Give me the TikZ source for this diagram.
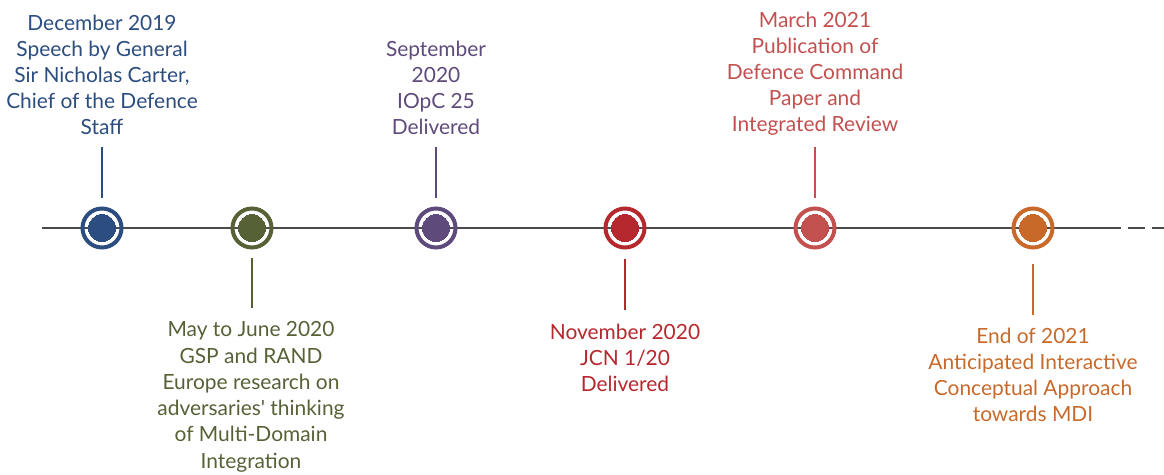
\documentclass[tikz,border=0pt]{standalone}
\usepackage{fontspec}
\setmainfont{Lato}
\begin{document}
\begin{tikzpicture}[x=1bp,y=-1bp,
  axis/.style={draw=axisgray,line width=2bp},
  milestone/.style={circle,draw=#1,fill=#1,line width=0bp,minimum size=27bp,inner sep=0pt,
    append after command={\pgfextra{\draw[#1,line width=4bp] (\tikzlastnode.center) circle[radius=19.5bp];}}},
  tick/.style={draw=#1,line width=1.6bp},
  label/.style={text=#1,align=center,inner sep=0pt,anchor=base,font=\fontsize{21}{26.3}\selectfont},
]
\definecolor{axisgray}{HTML}{4A4A4A}
\definecolor{cblue}{HTML}{2B4D7F}
\definecolor{cgreen}{HTML}{566136}
\definecolor{cpurple}{HTML}{5F4B7B}
\definecolor{cred}{HTML}{B5282D}
\definecolor{cpink}{HTML}{C2504F}
\definecolor{corange}{HTML}{C8692A}

\useasboundingbox (0,0) rectangle (1164,475);

% timeline axis
\coordinate (start) at (42,228);
\coordinate (stop) at (1121,228);
\coordinate (tail) at (1168,228);
\draw[axis] (start) -- (stop);
\draw[axis,dash pattern=on 17bp off 7bp] ([xshift=7bp]stop) -- (tail);

% milestones
\node[milestone=cblue]   (c1) at (102,228) {};
\node[milestone=cgreen]  (c2) at (252,228) {};
\node[milestone=cpurple] (c3) at (436,228) {};
\node[milestone=cred]    (c4) at (625,228) {};
\node[milestone=cpink]   (c5) at (815,228) {};
\node[milestone=corange] (c6) at (1033,228) {};

% labels (anchored at the baseline of their last line)
\node[label=cblue]   (l1) at (102,135) {December 2019\\Speech by General\\Sir Nicholas Carter,\\Chief of the Defence\\Staff};
\node[label=cpurple] (l3) at (436,135) {September\\2020\\IOpC 25\\Delivered};
\node[label=cpink]   (l5) at (815,132) {March 2021\\Publication of\\Defence Command\\Paper and\\Integrated Review};
\node[label=cgreen]  (l2) at (251,468) {May to June 2020\\GSP and RAND\\Europe research on\\adversaries\textquotesingle{} thinking\\of Multi-Domain\\Integration};
\node[label=cred]    (l4) at (625,392) {November 2020\\JCN 1/20\\Delivered};
\node[label=corange] (l6) at (1033,422) {End of 2021\\Anticipated Interactive\\Conceptual Approach\\towards MDI};

% connector ticks (a gap is left at both ends)
\draw[tick=cblue]   ([yshift=16.5bp]c1.north) -- ([yshift=67.5bp]c1.north);
\draw[tick=cgreen]  ([yshift=-16.5bp]c2.south) -- ([yshift=-66.5bp]c2.south);
\draw[tick=cpurple] ([yshift=16.5bp]c3.north) -- ([yshift=67.5bp]c3.north);
\draw[tick=cred]    ([yshift=-17.5bp]c4.south) -- ([yshift=-68.5bp]c4.south);
\draw[tick=cpink]   ([yshift=16.5bp]c5.north) -- ([yshift=67.5bp]c5.north);
\draw[tick=corange] ([yshift=-22.5bp]c6.south) -- ([yshift=-73.5bp]c6.south);
\end{tikzpicture}
\end{document}
